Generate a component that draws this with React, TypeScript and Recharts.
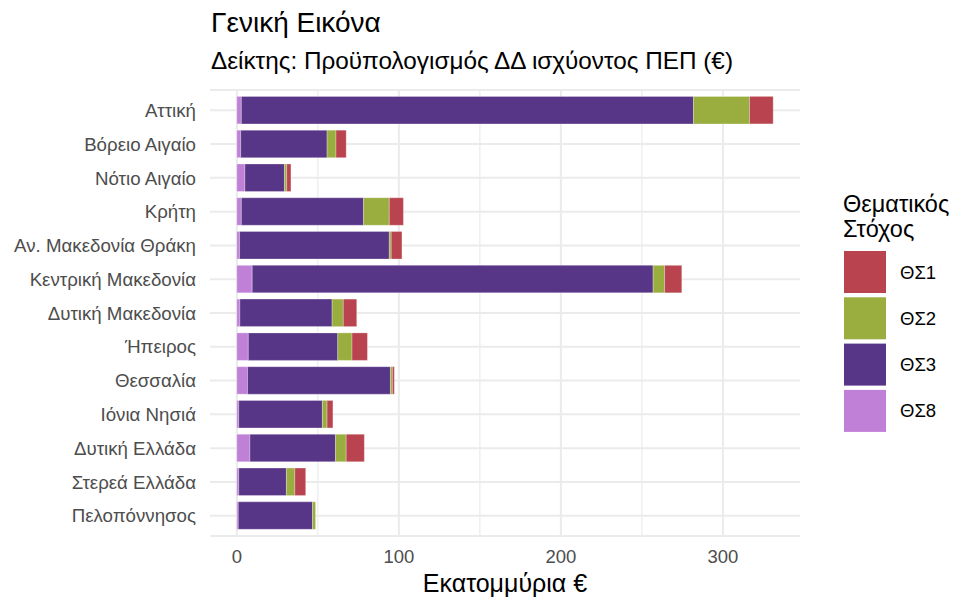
import React from 'react';
import { BarChart, Bar, XAxis, YAxis, CartesianGrid } from 'recharts';

const regions = [
  'Αττική',
  'Βόρειο Αιγαίο',
  'Νότιο Αιγαίο',
  'Κρήτη',
  'Αν. Μακεδονία Θράκη',
  'Κεντρική Μακεδονία',
  'Δυτική Μακεδονία',
  'Ήπειρος',
  'Θεσσαλία',
  'Ιόνια Νησιά',
  'Δυτική Ελλάδα',
  'Στερεά Ελλάδα',
  'Πελοπόννησος',
];

// million € per thematic objective
const ts8 = [2.8, 2.4, 5.0, 2.8, 1.7, 9.5, 1.9, 7.1, 6.6, 1.2, 8.1, 1.2, 0.9];
const ts3 = [279.0, 53.3, 24.4, 75.4, 92.4, 247.4, 56.9, 55.2, 88.2, 51.6, 52.8, 29.4, 45.8];
const ts2 = [34.6, 5.5, 1.4, 15.9, 1.2, 7.1, 6.9, 8.8, 1.2, 2.9, 6.6, 5.2, 1.9];
const ts1 = [14.6, 6.3, 2.6, 8.7, 6.6, 10.6, 8.3, 9.5, 1.2, 3.6, 11.2, 6.7, 0];

const xTicks = [0, 100, 200, 300];
const minorTicks = [50, 150, 250];

const legendItems = [
  { key: 'ts1', name: 'ΘΣ1', color: '#b9434e' },
  { key: 'ts2', name: 'ΘΣ2', color: '#9aad3f' },
  { key: 'ts3', name: 'ΘΣ3', color: '#583687' },
  { key: 'ts8', name: 'ΘΣ8', color: '#c080d8' },
];
const colorOf = (k: string) => legendItems.find(l => l.key === k)!.color;

const data = regions.map((region, i) => ({
  region,
  ts8: ts8[i],
  ts3: ts3[i],
  ts2: ts2[i],
  ts1: ts1[i],
}));

const FONT = '"Liberation Sans", Arial, sans-serif';

const App: React.FC = () => {
  return (
    <div style={{ position: 'absolute', left: 0, top: 0, width: 963, height: 599, background: '#fff', fontFamily: FONT }}>
      <BarChart
        width={963}
        height={599}
        data={data}
        layout="vertical"
        barSize={27.5}
        margin={{ top: 90, right: 163, bottom: 0, left: 0 }}
      >
        <CartesianGrid horizontal={false} verticalValues={minorTicks} stroke="#ebebeb" strokeWidth={1.2} />
        <CartesianGrid verticalValues={xTicks} stroke="#ebebeb" strokeWidth={2} />
        <XAxis
          type="number"
          domain={[-16.55, 347.55]}
          allowDataOverflow
          ticks={xTicks}
          height={63}
          axisLine={false}
          tickLine={false}
          tickSize={0}
          tickMargin={14}
          tick={{ fill: '#4d4d4d', fontSize: 18.5, fontFamily: FONT }}
          label={{ value: 'Εκατομμύρια €', position: 'insideBottom', offset: 7, fill: '#000', fontSize: 25, fontFamily: FONT }}
        />
        <YAxis
          type="category"
          dataKey="region"
          width={210}
          padding={{ top: 3.4, bottom: 3.4 }}
          axisLine={false}
          tickLine={false}
          tickSize={0}
          tickMargin={14}
          interval={0}
          tick={{ fill: '#4d4d4d', fontSize: 18.7, fontFamily: FONT }}
        />
        <Bar dataKey="ts8" stackId="a" fill={colorOf('ts8')} stroke="#fff" strokeOpacity={0.35} strokeWidth={0.8} isAnimationActive={false} />
        <Bar dataKey="ts3" stackId="a" fill={colorOf('ts3')} stroke="#fff" strokeOpacity={0.35} strokeWidth={0.8} isAnimationActive={false} />
        <Bar dataKey="ts2" stackId="a" fill={colorOf('ts2')} stroke="#fff" strokeOpacity={0.35} strokeWidth={0.8} isAnimationActive={false} />
        <Bar dataKey="ts1" stackId="a" fill={colorOf('ts1')} stroke="#fff" strokeOpacity={0.35} strokeWidth={0.8} isAnimationActive={false} />
      </BarChart>

      <svg width={963} height={599} style={{ position: 'absolute', left: 0, top: 0, pointerEvents: 'none' }}>
        <text x={211} y={31.5} fontSize={28} fontFamily={FONT} fill="#000">Γενική Εικόνα</text>
        <text x={211} y={68.5} fontSize={24.3} fontFamily={FONT} fill="#000">Δείκτης: Προϋπολογισμός ΔΔ ισχύοντος ΠΕΠ (€)</text>

        <text x={843} y={211.5} fontSize={23.5} fontFamily={FONT} fill="#000">Θεματικός</text>
        <text x={843} y={236.5} fontSize={23.5} fontFamily={FONT} fill="#000">Στόχος</text>
        {legendItems.map((item, i) => (
          <g key={item.key}>
            <rect x={844} y={251 + i * 46.3} width={42} height={42} fill={item.color} />
            <text x={900} y={251 + i * 46.3 + 21} dy="0.355em" fontSize={18.5} fontFamily={FONT} fill="#000">
              {item.name}
            </text>
          </g>
        ))}
      </svg>
    </div>
  );
};

export default App;
